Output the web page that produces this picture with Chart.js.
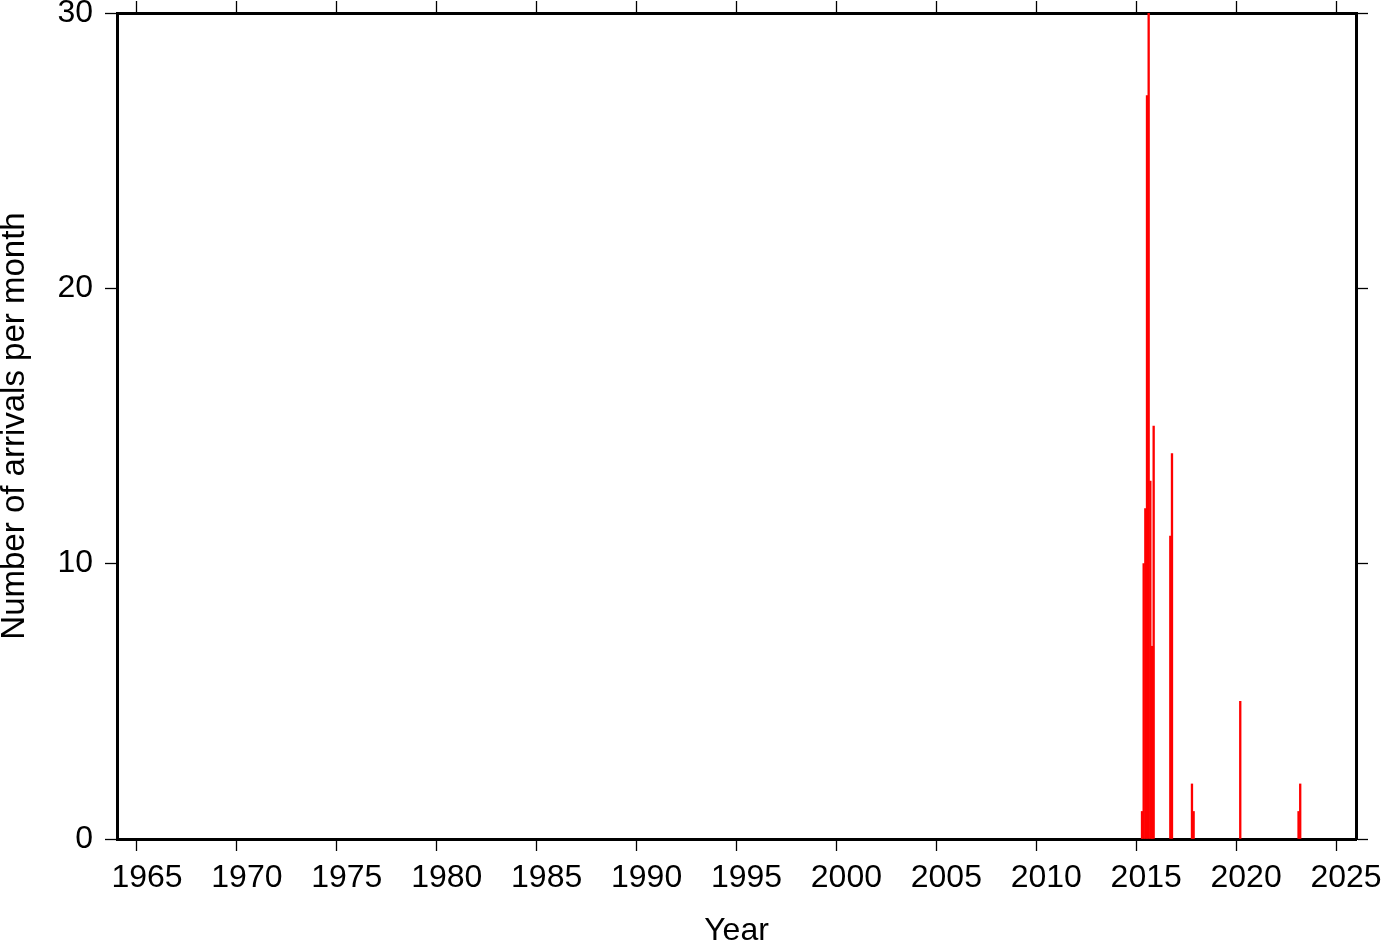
<!DOCTYPE html>
<html>
<head>
<meta charset="utf-8">
<script src="https://cdn.jsdelivr.net/npm/chart.js@4"></script>
<style>
  html, body { margin: 0; padding: 0; background: #fff; overflow: hidden; }
  #wrap { width: 1382px; height: 942px; }
</style>
</head>
<body>
<div id="wrap"><canvas id="arrivals"></canvas></div>
<script>
// Monthly arrival counts (months with no arrivals are left out)
const months = [
    "2015-04", "2015-05", "2015-06", "2015-07", "2015-08", "2015-09", "2015-10", "2015-11",
    "2016-09", "2016-10",
    "2017-10", "2017-11",
    "2020-03",
    "2023-02", "2023-03"
];
const counts = [
    1, 10, 12, 27, 30, 13, 7, 15,
    11, 14,
    2, 1,
    5,
    1, 2
];

const yearTicks = [1965, 1970, 1975, 1980, 1985, 1990, 1995, 2000, 2005, 2010, 2015, 2020, 2025];
const countTicks = [0, 10, 20, 30];

// bar sits in the middle of its month
const points = months.map((m, i) => {
    const [y, mo] = m.split("-").map(Number);
    return { x: y + (mo - 0.5) / 12, y: counts[i] };
});

const labelFont = { family: "'Liberation Sans', Arial, sans-serif", size: 32 };
const yTitleFont = { family: "'Liberation Sans', Arial, sans-serif", size: 33 };

// every side gets the same black frame and outward tick marks
function frameAxis(extra) {
    return Object.assign({
        type: 'linear',
        offset: false,
        grid: {
            drawOnChartArea: false,
            drawTicks: true,
            tickLength: 12,
            tickColor: '#000',
            tickWidth: 1.3,
            offset: false
        },
        border: { display: true, color: '#000', width: 3 },
        ticks: {
            color: '#000',
            font: labelFont,
            maxRotation: 0,
            autoSkip: false
        }
    }, extra);
}

function noPad(s) {
    s.paddingTop = 0; s.paddingBottom = 0; s.paddingLeft = 0; s.paddingRight = 0;
}

const ctx = document.getElementById('arrivals').getContext('2d');
const chart = new Chart(ctx, {
    type: 'bar',
    data: {
        datasets: [{
            label: 'Arrivals',
            data: points,
            backgroundColor: '#ff0000',
            borderWidth: 0,
            barPercentage: 1,
            categoryPercentage: 1,
            xAxisID: 'x',
            yAxisID: 'y'
        }]
    },
    options: {
        responsive: true,
        maintainAspectRatio: false,
        animation: false,
        layout: { padding: 0 },
        plugins: {
            legend: { display: false },
            tooltip: { enabled: false }
        },
        scales: {
            x: frameAxis({
                position: 'bottom',
                min: 1964,
                max: 2026,
                afterBuildTicks: s => { s.ticks = yearTicks.map(v => ({ value: v })); },
                ticks: {
                    color: '#000', font: labelFont, maxRotation: 0, autoSkip: false,
                    padding: 8,
                    labelOffset: 10,   // year names sit in the middle of the year
                    callback: v => String(v)
                },
                title: {
                    display: true,
                    text: 'Year',
                    color: '#000',
                    font: labelFont,
                    padding: { top: 0, bottom: -8 }
                },
                afterFit: s => { s.height = 103; noPad(s); }
            }),
            xTop: frameAxis({
                position: 'top',
                min: 1964,
                max: 2026,
                afterBuildTicks: s => { s.ticks = yearTicks.map(v => ({ value: v })); },
                ticks: { display: true, callback: () => '' },
                afterFit: s => { s.height = 13; noPad(s); }
            }),
            y: frameAxis({
                position: 'left',
                min: 0,
                max: 30,
                afterBuildTicks: s => { s.ticks = countTicks.map(v => ({ value: v })); },
                ticks: {
                    color: '#000', font: labelFont, autoSkip: false,
                    padding: 12,
                    callback: v => String(v)
                },
                title: {
                    display: true,
                    text: 'Number of arrivals per month',
                    color: '#000',
                    font: yTitleFont,
                    padding: { top: -5, bottom: 0 }
                },
                afterFit: s => { s.width = 117; noPad(s); }
            }),
            yRight: frameAxis({
                position: 'right',
                min: 0,
                max: 30,
                afterBuildTicks: s => { s.ticks = countTicks.map(v => ({ value: v })); },
                ticks: { display: true, callback: () => '' },
                afterFit: s => { s.width = 26; noPad(s); }
            })
        }
    }
});
</script>
</body>
</html>
